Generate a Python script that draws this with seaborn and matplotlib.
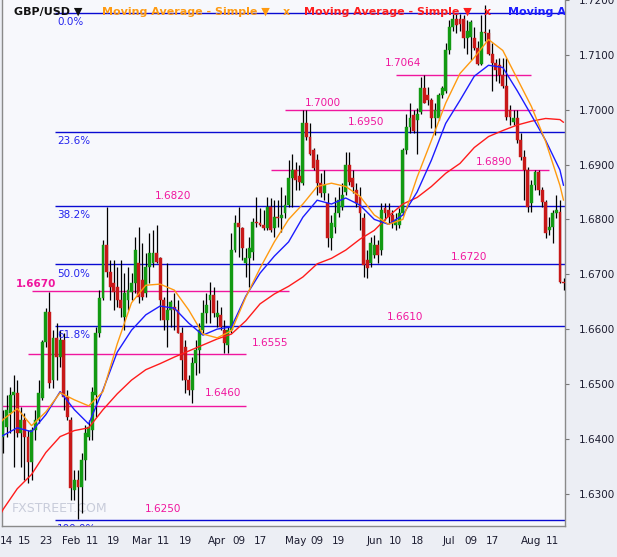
import matplotlib
matplotlib.use("Agg")
import matplotlib.pyplot as plt
import matplotlib.transforms as mtransforms
import seaborn as sns
import pandas as pd
import numpy as np

sns.set_style("white")
plt.rcParams["font.family"] = ["DejaVu Sans"]

# GBP/USD daily candles, one per weekday from 7 Jan to 14 Aug 2014
opens = [
    1.6404, 1.6422, 1.6447, 1.6480, 1.6484, 1.6411, 1.6435, 1.6404, 1.6358, 1.6416,
    1.6435, 1.6475, 1.6577, 1.6631, 1.6507, 1.6584, 1.6549, 1.6580, 1.6476, 1.6435,
    1.6307, 1.6325, 1.6313, 1.6362, 1.6404, 1.6416, 1.6480, 1.6593, 1.6657, 1.6753,
    1.6704, 1.6684, 1.6677, 1.6653, 1.6622, 1.6653, 1.6668, 1.6684, 1.6720, 1.6689,
    1.6665, 1.6713, 1.6720, 1.6739, 1.6729, 1.6653, 1.6617, 1.6635, 1.6640, 1.6635,
    1.6593, 1.6568, 1.6507, 1.6489, 1.6538, 1.6562, 1.6598, 1.6629, 1.6653, 1.6662,
    1.6622, 1.6626, 1.6598, 1.6571, 1.6598, 1.6744, 1.6793, 1.6784, 1.6720, 1.6729,
    1.6740, 1.6795, 1.6793, 1.6789, 1.6784, 1.6822, 1.6784, 1.6804, 1.6802, 1.6811,
    1.6826, 1.6875, 1.6890, 1.6880, 1.6866, 1.6975, 1.6950, 1.6926, 1.6908, 1.6866,
    1.6848, 1.6830, 1.6766, 1.6786, 1.6811, 1.6822, 1.6850, 1.6899, 1.6875, 1.6853,
    1.6840, 1.6802, 1.6726, 1.6720, 1.6735, 1.6753, 1.6744, 1.6820, 1.6817, 1.6808,
    1.6790, 1.6790, 1.6811, 1.6926, 1.6968, 1.6990, 1.6981, 1.6995, 1.7039, 1.7026,
    1.7017, 1.6984, 1.6984, 1.7026, 1.7035, 1.7108, 1.7150, 1.7166, 1.7166, 1.7166,
    1.7130, 1.7132, 1.7130, 1.7113, 1.7084, 1.7141, 1.7139, 1.7102, 1.7086, 1.7081,
    1.7063, 1.7044, 1.6999, 1.6977, 1.6984, 1.6944, 1.6913, 1.6890, 1.6830, 1.6862,
    1.6886, 1.6853, 1.6831, 1.6780, 1.6786, 1.6811, 1.6813, 1.6686,
]
highs = [
    1.6453, 1.6480, 1.6495, 1.6517, 1.6507, 1.6458, 1.6447, 1.6416, 1.6422, 1.6453,
    1.6507, 1.6580, 1.6638, 1.6668, 1.6598, 1.6611, 1.6598, 1.6593, 1.6489, 1.6440,
    1.6344, 1.6344, 1.6375, 1.6426, 1.6435, 1.6495, 1.6604, 1.6671, 1.6762, 1.6822,
    1.6726, 1.6726, 1.6713, 1.6726, 1.6702, 1.6713, 1.6702, 1.6768, 1.6786, 1.6757,
    1.6739, 1.6775, 1.6780, 1.6790, 1.6731, 1.6658, 1.6720, 1.6653, 1.6666, 1.6653,
    1.6604, 1.6580, 1.6517, 1.6549, 1.6580, 1.6611, 1.6653, 1.6666, 1.6686, 1.6677,
    1.6653, 1.6640, 1.6617, 1.6604, 1.6775, 1.6808, 1.6822, 1.6786, 1.6748, 1.6768,
    1.6802, 1.6840, 1.6820, 1.6817, 1.6840, 1.6839, 1.6835, 1.6835, 1.6859, 1.6844,
    1.6908, 1.6920, 1.6904, 1.6899, 1.6999, 1.6999, 1.6975, 1.6931, 1.6920, 1.6884,
    1.6890, 1.6848, 1.6808, 1.6840, 1.6859, 1.6866, 1.6922, 1.6922, 1.6890, 1.6866,
    1.6859, 1.6811, 1.6744, 1.6768, 1.6771, 1.6762, 1.6830, 1.6830, 1.6830, 1.6817,
    1.6811, 1.6820, 1.6931, 1.6993, 1.7012, 1.6999, 1.7004, 1.7059, 1.7063, 1.7041,
    1.7022, 1.7012, 1.7030, 1.7044, 1.7121, 1.7163, 1.7175, 1.7175, 1.7175, 1.7172,
    1.7163, 1.7163, 1.7150, 1.7126, 1.7172, 1.7190, 1.7148, 1.7121, 1.7093, 1.7095,
    1.7095, 1.7095, 1.7008, 1.6999, 1.6999, 1.6957, 1.6926, 1.6895, 1.6871, 1.6890,
    1.6890, 1.6859, 1.6835, 1.6804, 1.6817, 1.6844, 1.6835, 1.6693,
]
lows = [
    1.6375, 1.6404, 1.6411, 1.6349, 1.6404, 1.6349, 1.6325, 1.6320, 1.6325, 1.6398,
    1.6429, 1.6471, 1.6568, 1.6493, 1.6493, 1.6507, 1.6531, 1.6453, 1.6435, 1.6289,
    1.6289, 1.6253, 1.6265, 1.6325, 1.6398, 1.6398, 1.6440, 1.6586, 1.6653, 1.6695,
    1.6653, 1.6635, 1.6640, 1.6622, 1.6598, 1.6635, 1.6653, 1.6666, 1.6648, 1.6653,
    1.6658, 1.6684, 1.6713, 1.6720, 1.6617, 1.6598, 1.6568, 1.6604, 1.6598, 1.6593,
    1.6507, 1.6484, 1.6480, 1.6466, 1.6517, 1.6520, 1.6593, 1.6611, 1.6611, 1.6622,
    1.6604, 1.6598, 1.6556, 1.6556, 1.6593, 1.6740, 1.6731, 1.6726, 1.6695, 1.6677,
    1.6726, 1.6786, 1.6788, 1.6780, 1.6780, 1.6777, 1.6768, 1.6786, 1.6777, 1.6802,
    1.6822, 1.6822, 1.6853, 1.6853, 1.6862, 1.6944, 1.6917, 1.6890, 1.6844, 1.6840,
    1.6835, 1.6750, 1.6744, 1.6775, 1.6804, 1.6817, 1.6844, 1.6862, 1.6848, 1.6822,
    1.6780, 1.6695, 1.6693, 1.6713, 1.6729, 1.6720, 1.6735, 1.6799, 1.6793, 1.6784,
    1.6780, 1.6784, 1.6808, 1.6920, 1.6957, 1.6957, 1.6920, 1.6993, 1.7012, 1.7008,
    1.6966, 1.6953, 1.6981, 1.7022, 1.7030, 1.7102, 1.7144, 1.7139, 1.7144, 1.7113,
    1.7102, 1.7090, 1.7108, 1.7081, 1.7081, 1.7126, 1.7099, 1.7035, 1.7053, 1.7048,
    1.7039, 1.6981, 1.6972, 1.6972, 1.6939, 1.6908, 1.6835, 1.6813, 1.6813, 1.6853,
    1.6844, 1.6822, 1.6766, 1.6771, 1.6757, 1.6802, 1.6684, 1.6671,
]
closes = [
    1.6435, 1.6453, 1.6480, 1.6486, 1.6411, 1.6435, 1.6404, 1.6358, 1.6416, 1.6435,
    1.6484, 1.6577, 1.6631, 1.6502, 1.6584, 1.6549, 1.6580, 1.6476, 1.6440, 1.6311,
    1.6325, 1.6313, 1.6362, 1.6411, 1.6422, 1.6486, 1.6593, 1.6657, 1.6753, 1.6704,
    1.6677, 1.6668, 1.6653, 1.6638, 1.6666, 1.6671, 1.6684, 1.6744, 1.6658, 1.6658,
    1.6713, 1.6739, 1.6739, 1.6722, 1.6653, 1.6617, 1.6635, 1.6649, 1.6635, 1.6593,
    1.6544, 1.6507, 1.6489, 1.6538, 1.6562, 1.6598, 1.6629, 1.6644, 1.6662, 1.6629,
    1.6629, 1.6604, 1.6575, 1.6598, 1.6744, 1.6793, 1.6786, 1.6748, 1.6729, 1.6748,
    1.6795, 1.6793, 1.6789, 1.6784, 1.6822, 1.6780, 1.6804, 1.6802, 1.6808, 1.6826,
    1.6875, 1.6890, 1.6871, 1.6868, 1.6975, 1.6950, 1.6920, 1.6893, 1.6866, 1.6848,
    1.6862, 1.6766, 1.6793, 1.6811, 1.6835, 1.6844, 1.6899, 1.6868, 1.6859, 1.6830,
    1.6811, 1.6717, 1.6711, 1.6757, 1.6753, 1.6735, 1.6817, 1.6811, 1.6804, 1.6793,
    1.6799, 1.6811, 1.6926, 1.6968, 1.6984, 1.6962, 1.6993, 1.7039, 1.7013, 1.7017,
    1.6984, 1.6999, 1.7026, 1.7039, 1.7108, 1.7150, 1.7166, 1.7154, 1.7157, 1.7130,
    1.7144, 1.7159, 1.7113, 1.7084, 1.7141, 1.7139, 1.7102, 1.7086, 1.7072, 1.7063,
    1.7044, 1.6986, 1.6986, 1.6984, 1.6944, 1.6913, 1.6890, 1.6822, 1.6862, 1.6886,
    1.6853, 1.6831, 1.6775, 1.6786, 1.6811, 1.6817, 1.6686, 1.6684,
]

# simple moving averages as drawn (orange fast, blue mid, red slow), read at these candles
ma_idx = [-1, 0, 4, 8, 12, 16, 20, 24, 28, 32, 36, 40, 44, 48, 52, 56, 60, 64, 68, 72,
          76, 80, 84, 88, 92, 96, 100, 104, 108, 112, 116, 120, 124, 128, 132, 136, 140,
          144, 148, 152, 156, 157]
ma_fast = [1.6427, 1.6435, 1.6455, 1.6424, 1.6449, 1.6484, 1.6471, 1.6460, 1.6486, 1.6573,
           1.6648, 1.6680, 1.6682, 1.6671, 1.6635, 1.6591, 1.6584, 1.6597, 1.6658, 1.6711,
           1.6759, 1.6800, 1.6828, 1.6860, 1.6866, 1.6860, 1.6842, 1.6808, 1.6791, 1.6800,
           1.6877, 1.6944, 1.7012, 1.7066, 1.7095, 1.7128, 1.7108, 1.7057, 1.7006, 1.6942,
           1.6862, 1.6835]
ma_mid = [1.6404, 1.6406, 1.6420, 1.6413, 1.6444, 1.6486, 1.6453, 1.6427, 1.6489, 1.6558,
          1.6598, 1.6626, 1.6642, 1.6638, 1.6611, 1.6589, 1.6600, 1.6604, 1.6660, 1.6702,
          1.6733, 1.6759, 1.6804, 1.6835, 1.6828, 1.6839, 1.6826, 1.6800, 1.6791, 1.6808,
          1.6850, 1.6908, 1.6975, 1.7017, 1.7061, 1.7081, 1.7077, 1.7035, 1.6990, 1.6944,
          1.6890, 1.6862]
ma_slow = [1.6258, 1.6271, 1.6309, 1.6335, 1.6375, 1.6404, 1.6415, 1.6420, 1.6453, 1.6482,
           1.6507, 1.6526, 1.6537, 1.6549, 1.6560, 1.6571, 1.6582, 1.6591, 1.6615, 1.6646,
           1.6664, 1.6678, 1.6695, 1.6719, 1.6729, 1.6744, 1.6764, 1.6780, 1.6806, 1.6828,
           1.6840, 1.6860, 1.6884, 1.6902, 1.6931, 1.6951, 1.6962, 1.6972, 1.6979, 1.6984,
           1.6982, 1.6977]

# Fibonacci retracement
fib_levels = [1.7177, 1.6959, 1.6824, 1.6718, 1.6606, 1.6252]
fib_labels = ["0.0%", "23.6%", "38.2%", "50.0%", "61.8%", "100.0%"]

# hand drawn support / resistance lines (level, first candle, last candle)
sr_levels = [1.7064, 1.7000, 1.6890, 1.6670, 1.6555, 1.6460]
sr_start = [110, 79, 75, 8, 7, -1]
sr_end = [148, 149, 153, 80, 68, 68]

note_texts = ["1.7064", "1.7000", "1.6950", "1.6890", "1.6820", "1.6720",
              "1.6670", "1.6610", "1.6555", "1.6460", "1.6250"]
note_px = [(403, 63), (323, 103), (366, 122), (494, 162), (173, 196), (469, 257),
           (36, 284), (405, 317), (270, 343), (223, 393), (163, 509)]

x_ticks = [0.9, 6, 12, 19, 25, 31, 39, 45, 51, 60, 66, 72, 82, 88, 94, 104, 110, 116,
           125, 131, 137, 148, 154]
x_labels = ["14", "15", "23", "Feb", "11", "19", "Mar", "11", "19", "Apr", "09", "17",
            "May", "09", "19", "Jun", "10", "18", "Jul", "09", "17", "Aug", "11"]
month_ticks = [19, 39, 60, 82, 104, 125, 148]
y_ticks = [1.63, 1.64, 1.65, 1.66, 1.67, 1.68, 1.69, 1.70, 1.71, 1.72]

W, H = 617, 557
fig = plt.figure(figsize=(W / 100, H / 100), dpi=100, facecolor="#eceef4")
ax = fig.add_axes([2 / W, 31 / H, 563 / W, 526 / H])
ax.set_facecolor("#f7f8fc")


def at(x, y):
    # pixel position inside the plot area -> axes fraction
    return (x - 2) / 563, 1 - y / 526


MAGENTA = "#f0169e"
FIB = "#0a0ad2"

df = pd.DataFrame({"o": opens, "h": highs, "l": lows, "c": closes})
df["i"] = np.arange(len(df))
up = df.c >= df.o
ax.vlines(df.i, df.l, df.h, color="black", lw=0.9, zorder=3)
body = (df.c - df.o).abs().clip(lower=0.0001)
ax.bar(df.i[up], body[up], bottom=df.o[up], width=0.8, color="#129a12",
       edgecolor="#129a12", lw=0.3, zorder=4)
ax.bar(df.i[~up], body[~up], bottom=df.c[~up], width=0.8, color="#c81818",
       edgecolor="#c81818", lw=0.3, zorder=4)

ma = pd.DataFrame({"i": ma_idx, "fast": ma_fast, "mid": ma_mid, "slow": ma_slow})
sns.lineplot(data=ma, x="i", y="slow", color="#ff1c1c", lw=1.0, ax=ax, zorder=5)
sns.lineplot(data=ma, x="i", y="mid", color="#1c1cff", lw=1.0, ax=ax, zorder=6)
sns.lineplot(data=ma, x="i", y="fast", color="#ff9a10", lw=1.0, ax=ax, zorder=6)

below = mtransforms.offset_copy(ax.transData, fig=fig, x=1, y=-3, units="points")
for lvl, lbl in zip(fib_levels, fib_labels):
    ax.hlines(lvl, 14.6, 158, color=FIB, lw=1.0, zorder=2)
    ax.text(14.8, lvl, lbl, transform=below, va="top", ha="left", fontsize=7.5,
            color="#2323ee", clip_on=True, zorder=7)

for lvl, a, b in zip(sr_levels, sr_start, sr_end):
    ax.hlines(lvl, a, b, color=MAGENTA, lw=1.0, zorder=2)

for txt, (px, py) in zip(note_texts, note_px):
    bold = txt == "1.6670"
    ax.text(*at(px, py), txt, transform=ax.transAxes, ha="center", va="center",
            fontsize=7.5, color=MAGENTA, fontweight="bold" if bold else "normal", zorder=7)

ax.text(*at(60, 508), "FXSTREET.COM", transform=ax.transAxes, ha="center", va="center",
        fontsize=9, color="#c8ccda", zorder=1)

# legend strip along the top; the last entry runs into the price axis
legend_items = [("GBP/USD \u25bc", 14, "#111111"),
                ("Moving Average - Simple \u25bc", 102, "#ff9a10"),
                ("x", 283, "#ff9a10"),
                ("Moving Average - Simple \u25bc", 304, "#ff1c1c"),
                ("x", 484, "#ff1c1c"),
                ("Moving A", 508, "#1c1cff")]
for txt, px, col in legend_items:
    ax.text(*at(px, 12), txt, transform=ax.transAxes, ha="left", va="center", fontsize=8,
            fontweight="bold", color=col, clip_on=True, zorder=8)

ax.set_xlim(-0.28, 157.42)
ax.set_ylim(1.6241, 1.7199)
ax.set_xlabel("")
ax.set_ylabel("")

ax.set_xticks(x_ticks)
ax.set_xticklabels(x_labels)
ax.set_xticks(month_ticks, minor=True)
ax.tick_params(axis="x", which="major", direction="in", length=3, pad=7,
               labelsize=7.5, labelcolor="#1c1c30", color="#555555")
ax.tick_params(axis="x", which="minor", direction="in", length=6, color="#555555")

ax.yaxis.tick_right()
ax.set_yticks(y_ticks)
ax.set_yticklabels([f"{v:.4f}" for v in y_ticks])
ax.tick_params(axis="y", direction="out", length=3, pad=7, labelsize=7.5,
               labelcolor="#1c1c30", color="#777777")

for side in ["left", "right", "bottom"]:
    ax.spines[side].set_color("#8a8a8a")
    ax.spines[side].set_linewidth(1.0)
ax.spines["top"].set_visible(False)

fig.savefig("out.png", dpi=100, facecolor=fig.get_facecolor())
